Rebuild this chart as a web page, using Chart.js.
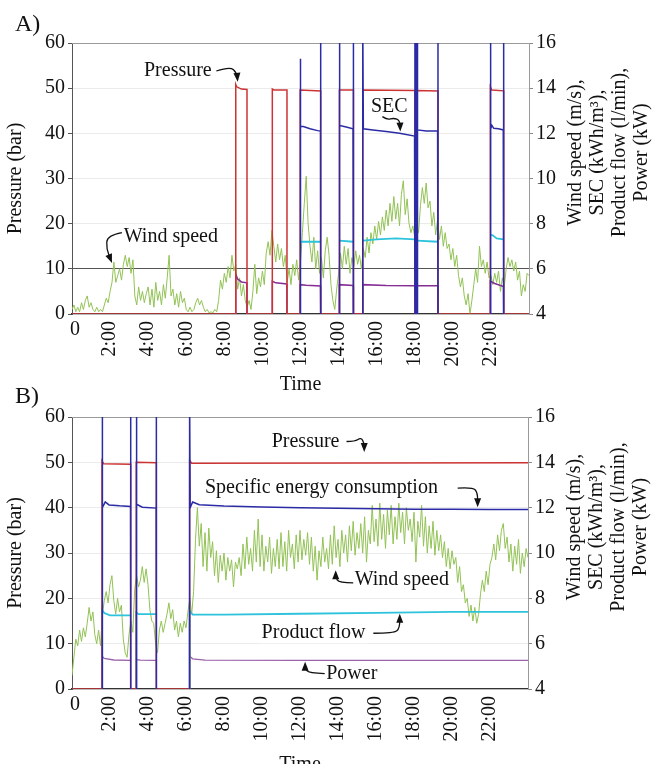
<!DOCTYPE html>
<html>
<head>
<meta charset="utf-8">
<title>Pressure, SEC, product flow, power and wind speed</title>
<script src="https://cdn.jsdelivr.net/npm/chart.js"></script>
<style>
  html, body { margin: 0; padding: 0; overflow: hidden; background: #fff; }
  .panel { position: absolute; left: 0; width: 672px; height: 400px; }
  #wrapA { top: 0; }
  #wrapB { top: 380px; }
</style>
</head>
<body>
<div class="panel" id="wrapA"><canvas id="chartA" width="672" height="400"></canvas></div>
<div class="panel" id="wrapB"><canvas id="chartB" width="672" height="400"></canvas></div>
<script>
  // ---- axis ticks ----
  var tickHours = [0, 2, 4, 6, 8, 10, 12, 14, 16, 18, 20, 22];
  var timeLabels = ['0', '2:00', '4:00', '6:00', '8:00', '10:00', '12:00', '14:00', '16:00', '18:00', '20:00', '22:00'];
  var rightTitleLines = ['Wind speed (m/s),', 'SEC (kWh/m\u00b3),', 'Product flow (l/min),', 'Power (kW)'];

  // ---- panel A ----
  var pressTimesA = [0, 8.6, 8.6, 8.65, 8.9, 9.19, 9.19, 10.52, 10.52, 10.6, 11.29, 11.29, 11.98, 11.98, 13.06, 13.06,
    14.04, 14.04, 14.78, 14.78, 15.27, 15.27, 18.01, 18.01, 18.13, 18.13, 19.22, 19.22, 21.97, 21.97, 22.05, 22.67, 22.67, 24];
  var pressA = [0, 0, 50.8, 50.3, 49.8, 49.7, 0, 0, 49.8, 49.6, 49.6, 0, 0, 49.6, 49.4, 0,
    0, 49.6, 49.6, 0, 0, 49.6, 49.5, 0, 0, 49.5, 49.4, 0, 0, 50.3, 49.6, 49.4, 0, 0];

  var secTimesA = [11.98, 11.98, 12.02, 12.15, 12.5, 12.9, 13.05, 13.06, 13.06, 13.1,
    14.04, 14.04, 14.07, 14.4, 14.76, 14.78, 14.78, 14.8,
    15.27, 15.27, 15.3, 15.8, 16.5, 17.2, 17.99, 18.01, 18.01, 18.05, 18.05, 18.09, 18.09, 18.13, 18.13, 18.16, 18.6, 19.2, 19.22, 19.22, 19.3,
    21.97, 21.97, 22.0, 22.05, 22.15, 22.4, 22.65, 22.67, 22.67];
  var secA = [4, 15.3, 12.3, 12.3, 12.2, 12.12, 12.1, 17, 4, null,
    4, 17, 12.35, 12.28, 12.2, 17, 4, null,
    4, 17, 12.2, 12.15, 12.08, 12.0, 11.88, 17, 4, 4, 17, 17, 4, 4, 17, 12.15, 12.1, 12.1, 17, 4, null,
    4, 17, 12.2, 12.35, 12.22, 12.2, 12.15, 17, 4];

  var flowTimesA = [11.98, 13.05, 13.06, 14.04, 14.77, 14.78, 15.27, 16.0, 17.0, 18.0, 18.01, 18.13, 19.21, 19.22, 21.97, 22.1, 22.3, 22.66];
  var flowA = [7.2, 7.2, null, 7.25, 7.2, null, 7.25, 7.3, 7.35, 7.3, null, 7.25, 7.2, null, 7.5, 7.48, 7.35, 7.3];

  var powerTimesA = [8.6, 8.6, 8.7, 8.9, 9.18, 9.19, 9.2,
    10.52, 10.52, 10.7, 11.28, 11.29, 11.3,
    11.98, 11.98, 12.3, 13.05, 13.06, 13.07,
    14.04, 14.04, 14.77, 14.78, 14.79,
    15.27, 15.27, 16.5, 18.0, 18.01, 18.13, 19.21, 19.22, 19.23,
    21.97, 21.97, 22.2, 22.66, 22.67];
  var powerA = [4, 5.75, 5.55, 5.42, 5.38, 4, null,
    4, 5.45, 5.38, 5.33, 4, null,
    4, 5.3, 5.27, 5.24, 4, null,
    4, 5.3, 5.26, 4, null,
    4, 5.3, 5.26, 5.25, null, 5.25, 5.25, 4, null,
    4, 5.45, 5.35, 5.22, 4];

  // wind speed every 0.1 h from 0:00 to 24:00
  var windStep = 0.1;
  var windA = [
    4.2, 4.4, 4.1, 4.3, 4.1, 4.5, 4.2, 4.6, 4.8, 4.3,
    4.5, 4.2, 4.1, 4.3, 4.1, 4.2, 4.1, 4.4, 4.7, 4.5,
    5.0, 5.4, 6.3, 5.4, 5.7, 6.0, 5.5, 6.2, 6.6, 6.1,
    6.5, 5.8, 6.4, 4.8, 4.4, 5.2, 4.6, 5.0, 4.5, 4.9,
    5.2, 4.4, 5.1, 4.3, 5.4, 4.6, 5.0, 4.4, 5.3, 4.7,
    5.6, 6.6, 4.8, 5.1, 4.4, 4.9, 4.3, 5.0, 4.5, 4.7,
    4.2, 4.1, 4.3, 4.1, 4.2, 4.5, 4.7, 4.4, 4.6, 4.3,
    4.1, 4.2, 4.05, 4.1, 4.05, 4.2, 4.1, 4.6, 5.5, 5.1,
    5.8, 5.4, 6.1, 5.6, 6.6, 5.9, 6.2, 5.1, 5.6, 4.8,
    5.3, 4.6, 4.3, 4.6, 4.2, 5.0, 6.2, 4.9, 5.6, 5.2,
    5.9, 5.3, 6.7, 7.2, 6.6, 7.7, 7.0, 6.3, 7.1, 6.4,
    6.9, 6.1, 6.6, 5.4, 6.0, 5.3, 6.2, 5.7, 6.4, 5.5,
    6.3, 7.6, 8.9, 10.1, 8.0, 7.0, 6.3, 7.4, 6.0, 6.8,
    5.8, 6.5, 5.6, 6.8, 7.4, 6.6, 5.3, 4.6, 4.2, 5.1,
    5.8, 6.7, 6.0, 7.0, 6.2, 6.9, 5.8, 6.5, 6.1, 6.8,
    6.2, 6.6, 6.0, 6.9, 6.5, 7.4, 6.7, 7.6, 7.1, 7.9,
    7.3, 8.1, 7.5, 8.3, 7.7, 8.6, 7.9, 8.9, 8.1, 9.2,
    8.2, 8.9, 7.9, 9.3, 9.9, 8.4, 9.1, 8.0, 7.6, 7.9,
    7.4, 7.9, 7.6, 8.8, 9.6, 8.9, 9.8, 8.7, 9.0, 7.9,
    8.5, 7.5, 8.2, 7.3, 7.9, 7.0, 7.6, 6.9, 7.1, 6.4,
    6.9, 6.1, 6.6, 5.7, 5.2, 5.6, 4.8, 4.4, 4.9, 4.0,
    4.6, 5.3, 6.0, 5.4, 7.0, 6.1, 6.4, 5.8, 6.3, 5.6,
    5.7, 5.3, 5.8, 5.4, 5.9, 5.0, 5.6, 5.2, 6.0, 6.5,
    6.1, 6.4, 5.9, 6.3, 5.5, 5.9, 4.8, 5.3, 5.0, 5.8,
    5.7];

  // ---- panel B ----
  var pressTimesB = [0, 1.58, 1.58, 1.66, 3.09, 3.09, 3.38, 3.38, 4.44, 4.44, 6.19, 6.19, 6.3, 24];
  var pressB = [0, 0, 50.3, 49.7, 49.6, 0, 0, 50.0, 49.9, 0, 0, 50.4, 49.8, 49.9];

  var secTimesB = [1.58, 1.58, 1.62, 1.75, 1.95, 2.5, 3.08, 3.09, 3.09, 3.2,
    3.38, 3.38, 3.42, 3.7, 4.43, 4.44, 4.44, 5,
    6.19, 6.19, 6.22, 6.35, 6.7, 8, 10, 12, 14, 16, 18, 20, 22, 24];
  var secB = [4, 17, 12.0, 12.25, 12.12, 12.08, 12.05, 17, 4, null,
    4, 17, 12.15, 12.02, 11.98, 17, 4, null,
    4, 17, 12.0, 12.25, 12.13, 12.07, 12.03, 12.0, 11.97, 11.95, 11.93, 11.93, 11.92, 11.92];

  var flowTimesB = [1.58, 1.58, 1.7, 2.0, 3.08, 3.1, 3.38, 3.38, 3.5, 4.43, 4.5, 6.19, 6.19, 6.35, 8, 12, 16, 20, 24];
  var flowB = [4, 7.5, 7.35, 7.25, 7.25, null, 4, 7.38, 7.3, 7.3, null, 4, 7.45, 7.28, 7.28, 7.32, 7.36, 7.4, 7.4];

  var powerTimesB = [1.58, 1.7, 2.2, 3.08, 3.1, 3.38, 3.6, 4.43, 4.5, 6.19, 6.35, 7, 12, 24];
  var powerB = [5.45, 5.35, 5.28, 5.26, null, 5.3, 5.27, 5.26, null, 5.45, 5.33, 5.27, 5.26, 5.26];

  var windB = [
    4.6, 5.4, 6.2, 5.9, 6.6, 6.1, 6.7, 6.3, 6.9, 7.6,
    7.0, 7.4, 6.4, 6.0, 6.6, 5.9, 7.3, 7.9, 8.3, 7.8,
    8.6, 9.0, 7.9, 7.3, 8.0, 7.4, 7.7, 6.2, 5.6, 5.4,
    6.4, 7.0, 6.5, 8.4, 9.0, 8.5, 8.8, 9.4, 8.7, 9.3,
    8.6, 7.5, 7.0, 6.9, 6.0, 5.6, 6.6, 7.0, 6.5, 6.9,
    7.3, 7.8, 7.1, 7.5, 6.6, 7.0, 6.3, 6.9, 6.5, 7.0,
    6.7, 7.4, 8.0, 7.3, 8.3, 10.6, 12.0, 10.3, 11.3, 9.4,
    10.9, 9.2, 11.1, 9.8, 10.5, 9.0, 10.1, 8.7, 9.9, 9.2,
    10.0, 8.8, 9.8, 9.2, 9.7, 8.5, 9.6, 9.3, 9.8, 9.0,
    10.4, 9.3, 10.7, 9.5, 10.2, 9.2, 11.0, 9.6, 11.5, 9.4,
    10.8, 9.2, 10.3, 9.6, 10.7, 9.1, 10.2, 9.4, 10.6, 9.3,
    10.9, 9.4, 10.5, 9.2, 11.0, 9.8, 10.4, 9.3, 10.8, 9.6,
    11.0, 9.7, 10.6, 9.9, 10.9, 9.5, 10.7, 9.2, 10.3, 8.8,
    10.1, 9.4, 10.7, 9.6, 10.2, 9.3, 10.8, 9.5, 11.2, 9.8,
    10.6, 9.4, 11.0, 10.0, 10.8, 9.6, 11.2, 10.1, 11.4, 9.9,
    10.9, 10.2, 11.3, 10.0, 11.6, 9.6, 11.0, 10.4, 12.1, 10.5,
    11.5, 10.3, 12.2, 10.6, 11.7, 10.2, 11.9, 10.8, 12.1, 10.4,
    11.6, 10.6, 12.2, 10.9, 11.8, 10.4, 12.0, 11.0, 11.5, 10.5,
    11.8, 9.6, 11.4, 10.7, 12.1, 10.3, 11.6, 10.0, 11.2, 10.2,
    11.4, 9.9, 11.0, 10.1, 10.8, 9.8, 10.5, 9.4, 10.2, 9.3,
    10.1, 9.5, 9.8, 8.7, 9.4, 8.3, 8.6, 7.8, 8.0, 7.2,
    7.7, 7.0, 7.6, 6.9, 7.3, 8.2, 8.8, 8.3, 9.2, 8.6,
    9.5, 9.8, 10.4, 9.7, 10.8, 10.1, 11.0, 11.3, 10.2, 10.7,
    9.6, 10.4, 9.2, 10.3, 9.5, 10.6, 9.1, 10.0, 9.4, 10.2,
    9.8];

  // ---- helpers ----
  var serif = '"Liberation Serif", "Times New Roman", serif';

  function pairs(times, values) {
    return times.map(function (t, i) { return { x: t, y: values[i] }; });
  }
  function windPairs(values) {
    return values.map(function (v, i) { return { x: Math.round(i * windStep * 10) / 10, y: v }; });
  }
  function line(data, color, width, axis) {
    return { data: data, borderColor: color, borderWidth: width, yAxisID: axis,
      pointRadius: 0, tension: 0, spanGaps: false, fill: false };
  }

  // annotations: text anchored at left-middle, arrows as paths (x in hours, y in bar)
  var notesA = [
    { text: 'Pressure', x: 3.78, y: 53.8, path: [[7.58, 53.8], [8.3, 54.8], [8.66, 53.4], [8.7, 51.4]] },
    { text: 'SEC', x: 15.7, y: 45.9, path: [[16.3, 43.7], [16.55, 43.0], [16.9, 43.4], [17.22, 42.9], [17.24, 40.4]] },
    { text: 'Wind speed', x: 2.72, y: 17.1, path: [[2.62, 18.0], [1.85, 17.4], [1.8, 14.5], [2.1, 11.3]] }
  ];
  var notesB = [
    { text: 'Pressure', x: 10.51, y: 54.6, path: [[14.45, 54.6], [14.9, 54.6], [15.2, 55.5], [15.38, 54.3], [15.38, 52.3]] },
    { text: 'Specific energy consumption', x: 7.0, y: 44.3, path: [[20.3, 44.3], [21.1, 44.5], [21.35, 43.3], [21.35, 40.1]] },
    { text: 'Wind speed', x: 14.88, y: 24.05, path: [[14.8, 23.4], [14.05, 23.4], [13.88, 24.6], [13.88, 26.2]] },
    { text: 'Product flow', x: 9.98, y: 12.3, path: [[15.86, 12.3], [16.95, 12.3], [17.25, 13.4], [17.25, 16.6]] },
    { text: 'Power', x: 13.38, y: 3.46, path: [[13.3, 3.4], [12.45, 3.5], [12.27, 4.6], [12.27, 6.0]] }
  ];

  function drawArrow(ctx, pts) {
    ctx.beginPath();
    ctx.moveTo(pts[0][0], pts[0][1]);
    for (var i = 1; i < pts.length - 1; i++) {
      var mx = (pts[i][0] + pts[i + 1][0]) / 2, my = (pts[i][1] + pts[i + 1][1]) / 2;
      ctx.quadraticCurveTo(pts[i][0], pts[i][1], mx, my);
    }
    var last = pts[pts.length - 1], prev = pts[pts.length - 2];
    var ang = Math.atan2(last[1] - prev[1], last[0] - prev[0]);
    var bx = last[0] - 6 * Math.cos(ang), by = last[1] - 6 * Math.sin(ang);
    ctx.lineTo(bx, by);
    ctx.stroke();
    ctx.beginPath();
    ctx.moveTo(last[0], last[1]);
    ctx.lineTo(last[0] - 9 * Math.cos(ang) + 3.5 * Math.sin(ang), last[1] - 9 * Math.sin(ang) - 3.5 * Math.cos(ang));
    ctx.lineTo(last[0] - 9 * Math.cos(ang) - 3.5 * Math.sin(ang), last[1] - 9 * Math.sin(ang) + 3.5 * Math.cos(ang));
    ctx.closePath();
    ctx.fill();
  }

  var framePlugin = {
    id: 'frame',
    beforeDatasetsDraw: function (chart) {
      var a = chart.chartArea, ctx = chart.ctx;
      ctx.save();
      ctx.strokeStyle = '#9a9a9a';
      ctx.lineWidth = 1;
      ctx.beginPath();
      ctx.moveTo(a.left, a.top + 0.5);
      ctx.lineTo(a.right + 0.5, a.top + 0.5);
      ctx.lineTo(a.right + 0.5, a.bottom);
      ctx.stroke();
      ctx.restore();
    }
  };

  var notesPlugin = {
    id: 'notes',
    afterDatasetsDraw: function (chart, args, opts) {
      var ctx = chart.ctx, xs = chart.scales.x, ys = chart.scales.y, a = chart.chartArea;
      ctx.save();
      ctx.font = '20px ' + serif;
      ctx.textBaseline = 'middle';
      ctx.textAlign = 'left';
      (opts.items || []).forEach(function (n) {
        var px = xs.getPixelForValue(n.x), py = ys.getPixelForValue(n.y);
        var w = ctx.measureText(n.text).width;
        ctx.fillStyle = '#fff';
        ctx.fillRect(px - 2, py - 10, w + 4, 20);
        ctx.fillStyle = '#111';
        ctx.fillText(n.text, px, py);
        ctx.strokeStyle = '#111';
        ctx.lineWidth = 1.3;
        drawArrow(ctx, n.path.map(function (p) { return [xs.getPixelForValue(p[0]), ys.getPixelForValue(p[1])]; }));
      });
      // upright "0" under the first tick
      ctx.fillStyle = '#111';
      ctx.textAlign = 'center';
      ctx.fillText(timeLabels[0], xs.getPixelForValue(tickHours[0]) + 3, a.bottom + 16);
      // right axis title, four lines reading upwards
      var cy = (a.top + a.bottom) / 2 - 26;
      rightTitleLines.forEach(function (txt, i) {
        ctx.save();
        ctx.translate(a.right + 47 + i * 22, cy);
        ctx.rotate(-Math.PI / 2);
        ctx.fillText(txt, 0, 0);
        ctx.restore();
      });
      // panel letter
      ctx.font = '24px ' + serif;
      ctx.textAlign = 'left';
      ctx.fillText(opts.label, 15, opts.labelY);
      ctx.restore();
    }
  };

  function makeChart(id, sets, notes, label, labelY, padTop, xHeight, rightWidth, tenLine) {
    var tickFont = { family: serif, size: 20 };
    return new Chart(document.getElementById(id), {
      type: 'line',
      data: { datasets: sets },
      options: {
        responsive: false,
        animation: false,
        devicePixelRatio: 1,
        layout: { padding: { top: padTop, left: 0, right: 0, bottom: 0 } },
        plugins: {
          legend: { display: false },
          tooltip: { enabled: false },
          notes: { items: notes, label: label, labelY: labelY }
        },
        scales: {
          x: {
            type: 'linear', min: 0, max: 24,
            afterFit: function (s) { s.height = xHeight; },
            afterBuildTicks: function (s) { s.ticks = tickHours.map(function (v) { return { value: v }; }); },
            ticks: {
              autoSkip: false, maxRotation: 90, minRotation: 90, padding: 7, color: '#111', font: tickFont,
              // the first label is drawn upright by the notes plugin
              callback: function (v) { return v === tickHours[0] ? '' : timeLabels[tickHours.indexOf(v)]; }
            },
            grid: { display: false, drawTicks: false },
            border: { color: '#333', width: 1.2 },
            title: { display: true, text: 'Time', color: '#111', font: tickFont, padding: { top: 0, bottom: 3 } }
          },
          y: {
            position: 'left', min: 0, max: 60,
            afterFit: function (s) { s.width = 72; },
            ticks: { stepSize: 10, padding: 3, color: '#111', font: tickFont },
            grid: {
              color: function (c) { return (tenLine && c.tick && c.tick.value === 10) ? '#555' : '#ebebeb'; },
              tickColor: '#555', tickLength: 4
            },
            border: { color: '#555' },
            title: { display: true, text: 'Pressure (bar)', color: '#111', font: tickFont, padding: { top: 4, bottom: 0 } }
          },
          y1: {
            position: 'right', min: 4, max: 16,
            afterFit: function (s) { s.width = rightWidth; },
            ticks: { stepSize: 2, padding: 3, color: '#111', font: tickFont },
            grid: { drawOnChartArea: false, tickColor: '#888', tickLength: 4 },
            border: { color: '#9a9a9a' }
          }
        }
      },
      plugins: [framePlugin, notesPlugin]
    });
  }

  var setsA = [
    line(pairs(secTimesA, secA), '#2b2ba6', 1.5, 'y1'),
    line(pairs(pressTimesA, pressA), '#cc3434', 1.5, 'y'),
    line(pairs(flowTimesA, flowA), '#2ec3dc', 1.8, 'y1'),
    line(pairs(powerTimesA, powerA), '#862d96', 1.5, 'y1'),
    line(windPairs(windA), '#92c255', 1, 'y1')
  ];
  var setsB = [
    line(pairs(secTimesB, secB), '#2b2ba6', 1.5, 'y1'),
    line(pairs(pressTimesB, pressB), '#cc3434', 1.5, 'y'),
    line(pairs(flowTimesB, flowB), '#2ec3dc', 1.8, 'y1'),
    line(pairs(powerTimesB, powerB), '#9a62aa', 1.3, 'y1'),
    line(windPairs(windB), '#92c255', 1, 'y1')
  ];

  makeChart('chartA', setsA, notesA, 'A)', 25, 43, 86, 143, true);
  makeChart('chartB', setsB, notesB, 'B)', 17, 37, 91, 144, false);
</script>
</body>
</html>
